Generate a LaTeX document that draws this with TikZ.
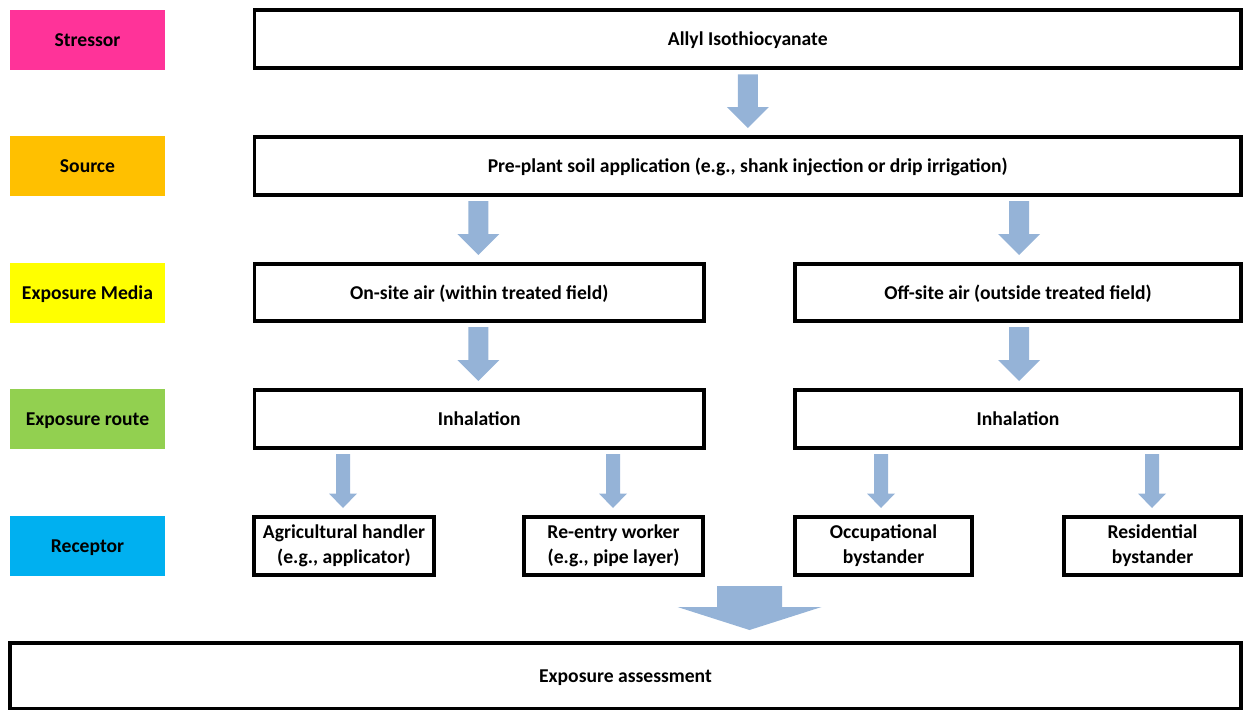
\documentclass[tikz,border=0pt]{standalone}
\usepackage{fontspec}
\setmainfont{Carlito}
\usetikzlibrary{calc}
\definecolor{cpink}{HTML}{FF3399}
\definecolor{corange}{HTML}{FFC000}
\definecolor{cyellow}{HTML}{FFFF00}
\definecolor{cgreen}{HTML}{92D050}
\definecolor{cblue}{HTML}{00B0F0}
\definecolor{carrow}{HTML}{95B3D7}
\setlength{\lineskiplimit}{-100pt}
\newcommand\mystrut{\rule[-5.5pt]{0pt}{24pt}}
\newcommand\lowstrut{\rule[-5pt]{0pt}{20pt}}
\tikzset{
  every node/.style={font=\fontsize{19.6}{25}\selectfont\bfseries, inner sep=0pt, outer sep=0pt,
    execute at begin node=\mystrut, execute at end node=\mystrut},
  lab/.style={rectangle, minimum width=155pt, minimum height=60pt},
  box/.style={rectangle, draw=black, line width=3.6pt, fill=white, minimum height=58pt, align=center},
  twoline/.style={execute at begin node={}, execute at end node={}},
  blockarrow/.style={fill=carrow},
}
\newcommand\blockarr[6]{%
  \fill[blockarrow] let \p1=(#2.north), \p2=(#1.south) in
   (\x1+#6-#3,\y2-6pt) -- (\x1+#6+#3,\y2-6pt) -- (\x1+#6+#3,\y1+9pt+#5)
   -- (\x1+#6+#4,\y1+9pt+#5) -- (\x1+#6,\y1+9pt) -- (\x1+#6-#4,\y1+9pt+#5)
   -- (\x1+#6-#3,\y1+9pt+#5) -- cycle;}
\begin{document}
\begin{tikzpicture}[x=1pt,y=-1pt]
\useasboundingbox (0,0) rectangle (1244,709);
% labels
\node[lab, fill=cpink] (lstress) at (87.5,40) {Stressor};
\node[lab, fill=corange] (lsource) at (87.5,166) {Source};
\node[lab, fill=cyellow] (lmedia) at (87.5,293) {Exposure Media};
\node[lab, fill=cgreen] (lroute) at (87.5,419) {Exposure route};
\node[lab, fill=cblue] (lrec) at (87.5,546) {Receptor};
% boxes
\node[box, minimum width=986.5pt] (allyl) at (747.75,39.25) {Allyl Isothiocyanate};
\node[box, minimum width=986.5pt] (source) at (747.75,166) {Pre-plant soil application (e.g., shank injection or drip irrigation)};
\node[box, minimum width=449.5pt, minimum height=57pt] (onsite) at (479.25,292.5) {On-site air (within treated field)};
\node[box, minimum width=446pt, minimum height=57pt] (offsite) at (1018,292.5) {Off-site air (outside treated field)};
\node[box, minimum width=449.5pt] (inh1) at (479.25,419) {Inhalation};
\node[box, minimum width=446pt] (inh2) at (1018,419) {Inhalation};
\node[box, twoline, minimum width=180pt] (agr) at (344,546) {\lowstrut Agricultural handler\\\lowstrut (e.g., applicator)};
\node[box, twoline, minimum width=179pt] (reentry) at (613.5,546) {\lowstrut Re-entry worker\\\lowstrut (e.g., pipe layer)};
\node[box, twoline, minimum width=177pt] (occ) at (883.5,546) {\lowstrut Occupational\\\lowstrut bystander};
\node[box, twoline, minimum width=177pt] (res) at (1152.5,546) {\lowstrut Residential\\\lowstrut bystander};
\node[box, minimum width=1231pt, minimum height=66pt] (assess) at (625.5,676) {Exposure assessment};
% arrows
\blockarr{allyl}{source}{10pt}{21pt}{21pt}{0pt}
\blockarr{source}{onsite}{10pt}{21pt}{21pt}{-1pt}
\blockarr{source}{offsite}{10pt}{21pt}{21pt}{1pt}
\blockarr{onsite}{inh1}{10pt}{21pt}{21pt}{-1pt}
\blockarr{offsite}{inh2}{10pt}{21pt}{21pt}{1pt}
\blockarr{inh1}{agr}{7pt}{14pt}{14.5pt}{-1pt}
\blockarr{inh1}{reentry}{7pt}{14pt}{14.5pt}{-0.5pt}
\blockarr{inh2}{occ}{7pt}{14pt}{14.5pt}{-2.5pt}
\blockarr{inh2}{res}{7pt}{14pt}{14.5pt}{-0.5pt}
% big arrow to assessment
\coordinate (bigx) at (749.5,0);
\fill[blockarrow] let \p1=(assess.north), \p2=(reentry.south), \p3=(bigx) in
  (\x3-32.5pt,\y2-11pt) -- (\x3+32.5pt,\y2-11pt) -- (\x3+32.5pt,\y1+36pt)
  -- (\x3+72pt,\y1+36pt) -- (\x3,\y1+13pt) -- (\x3-72pt,\y1+36pt)
  -- (\x3-32.5pt,\y1+36pt) -- cycle;
\end{tikzpicture}
\end{document}
